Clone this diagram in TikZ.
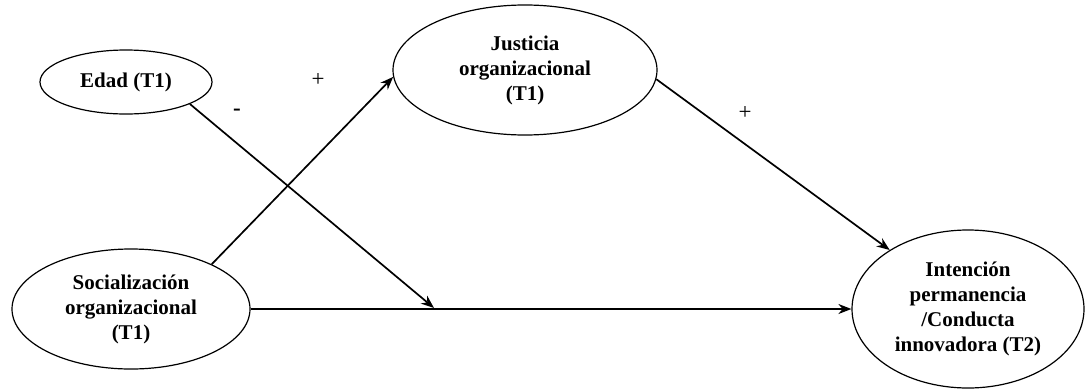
\documentclass[tikz,border=0pt]{standalone}
\usepackage{fontspec}
\setmainfont{Liberation Serif}
\usetikzlibrary{shapes.geometric,arrows.meta}
\begin{document}
\begin{tikzpicture}[x=1pt,y=-1pt,
  var/.style={ellipse,draw,line width=1.2pt,inner sep=0pt,align=center,
    font=\fontsize{21}{25}\selectfont\bfseries},
  conn/.style={line width=1.7pt,-{Stealth[length=13pt,width=10pt]}},
  sign/.style={font=\fontsize{23}{26}\selectfont}]
\useasboundingbox (0,0) rectangle (1091,391);
\node[var,minimum width=172pt,minimum height=64pt] (edad) at (126,82) {Edad (T1)};
\node[var,minimum width=264pt,minimum height=130pt] (just) at (525,70) {Justicia\\organizacional\\(T1)};
\node[var,minimum width=238pt,minimum height=120pt] (soc) at (131,309) {Socialización\\organizacional\\(T1)};
\node[var,minimum width=232pt,minimum height=158pt] (int) at (968,309) {Intención\\permanencia\\/Conducta\\innovadora (T2)};
\coordinate (m) at (434,308);
\draw[conn] (edad.-19) -- (m);
\draw[conn] (soc.29) -- (just.183);
\draw[conn] (just.-4) -- (int.143);
\draw[conn] (soc.east) -- (int.west);
\node[sign] (p1) at (318,80) {+};
\node[sign] (mn) at (237,112) {\textbf{-}};
\node[sign] (p2) at (745,113) {+};
\end{tikzpicture}
\end{document}
